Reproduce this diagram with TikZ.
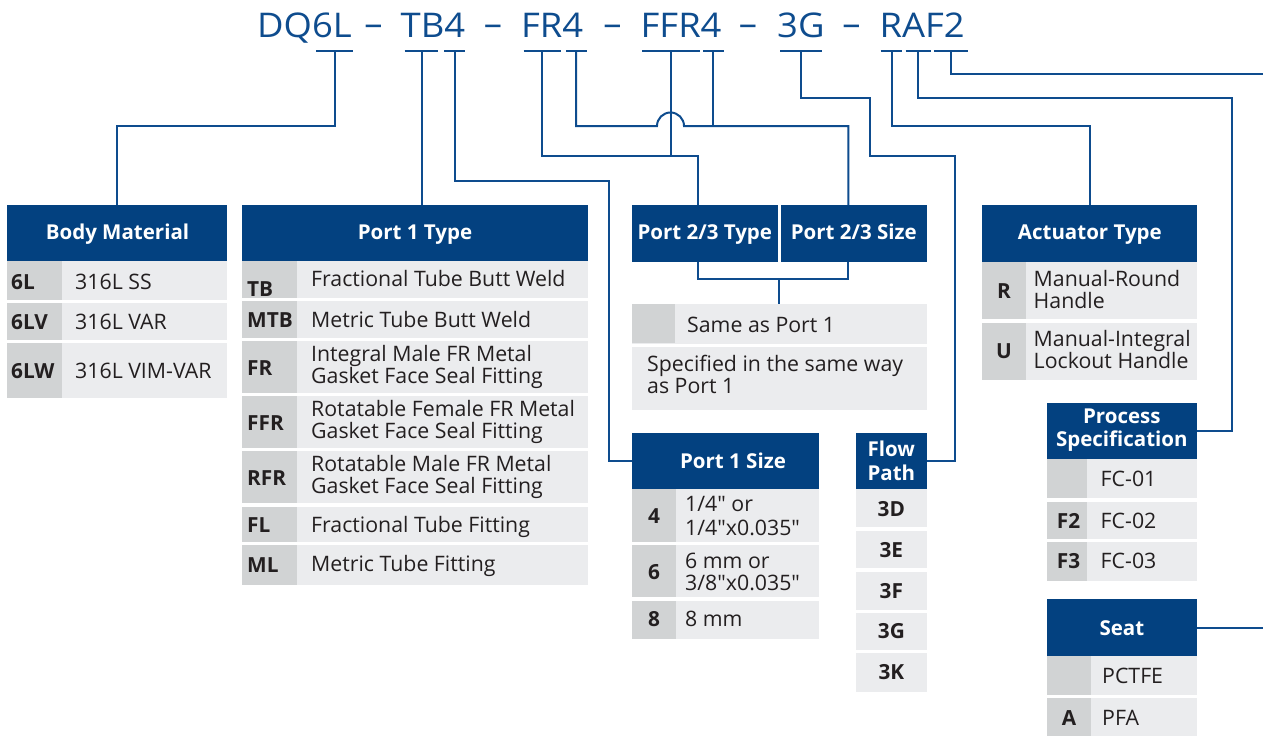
\documentclass[tikz,border=0pt]{standalone}
\usepackage{fontspec}
\setmainfont{Open Sans}[Ligatures=TeXOff]
\newfontfamily\titlefont{Open Sans}[FakeStretch=1.07]
\usetikzlibrary{calc}
\definecolor{hblue}{RGB}{3,65,128}
\definecolor{lblue}{RGB}{14,76,142}
\definecolor{rowgray}{RGB}{235,236,238}
\definecolor{codegray}{RGB}{209,211,212}
\definecolor{tdark}{RGB}{35,31,32}
\tikzset{
 hdrbox/.style={fill=hblue, draw=none, inner sep=0pt, anchor=north west},
 rowbox/.style={fill=rowgray, draw=none, inner sep=0pt, anchor=north west},
 hdrtext/.style={text=white, font=\bfseries\fontsize{20.5}{22}\selectfont, inner sep=0pt, anchor=base},
 valtext/.style={text=tdark, font=\fontsize{21.3}{22}\selectfont, inner sep=0pt, anchor=base west},
 codetext/.style={text=tdark, font=\bfseries\fontsize{20.8}{22}\selectfont, inner sep=0pt, anchor=base},
 codeleft/.style={codetext, anchor=base west},
 conn/.style={draw=lblue, line width=2pt},
 bar/.style={draw=lblue, line width=2.2pt},
 titletext/.style={text=lblue, font=\titlefont\fontsize{34}{36}\selectfont, inner sep=0pt, anchor=base west},
}
\newcommand{\rowfill}[5]{\fill[rowgray] (#1,#2) rectangle (#3,#4); \fill[codegray] (#1,#2) rectangle (#5,#4);}
\begin{document}
\begin{tikzpicture}[x=1pt,y=-1pt]
\useasboundingbox (0,0) rectangle (1263,736);
\fill[white] (0,0) rectangle (1263,736);

% ---------- title ----------
\node[titletext] (tA) at (257,37.5) {DQ6L};
\node[titletext] (tB) at (400.5,37.5) {TB4};
\node[titletext] (tC) at (521,37.5) {FR4};
\node[titletext] (tD) at (640.5,37.5) {FFR4};
\node[titletext] (tE) at (777,37.5) {3G};
\node[titletext] (tF) at (879.5,37.5) {RAF2};
\node[titletext, anchor=base] (d1) at (373.5,35) {–};
\node[titletext, anchor=base] (d2) at (493,35) {–};
\node[titletext, anchor=base] (d3) at (612.5,35) {–};
\node[titletext, anchor=base] (d4) at (748,35) {–};
\node[titletext, anchor=base] (d5) at (851.5,35) {–};

% bars
\draw[bar] (316,51) -- (353,51);
\draw[bar] (404.5,51) -- (438,51);
\draw[bar] (444,51) -- (464.5,51);
\draw[bar] (523.5,51) -- (561,51);
\draw[bar] (566,51) -- (586.5,51);
\draw[bar] (642,51) -- (700,51);
\draw[bar] (703,51) -- (724,51);
\draw[bar] (780,51) -- (822,51);
\draw[bar] (880.5,51) -- (902,51);
\draw[bar] (905.5,51) -- (930.5,51);
\draw[bar] (934,51) -- (968,51);

\coordinate (s1) at (335,51);
\coordinate (s2) at (421.5,51);
\coordinate (s3) at (455,51);
\coordinate (s4) at (542,51);
\coordinate (s5) at (576,51);
\coordinate (s6) at (670.5,51);
\coordinate (s7) at (713,51);
\coordinate (s8) at (801,51);
\coordinate (s9) at (891.5,51);
\coordinate (s10) at (918,51);
\coordinate (s11) at (951,51);
\coordinate (e1) at (1263,74);
\coordinate (e2) at (1263,0);

% ---------- Body Material ----------
\node[hdrbox, minimum width=220pt, minimum height=56pt] (bm) at (7,205) {};
\node[hdrtext] (bmT) at (117.5,239.5) {Body Material};
\rowfill{7}{261}{227}{299.5}{62}
\rowfill{7}{303}{227}{339.5}{62}
\rowfill{7}{343}{227}{398}{62}
\node[codeleft] (c1) at (11,289) {6L};
\node[valtext] (v1) at (75,289) {316L SS};
\node[codeleft] (c2) at (11,329) {6LV};
\node[valtext] (v2) at (75,329) {316L VAR};
\node[codeleft] (c3) at (11,378) {6LW};
\node[valtext] (v3) at (75,378) {316L VIM-VAR};

% ---------- Port 1 Type ----------
\node[hdrbox, minimum width=346pt, minimum height=56pt] (p1t) at (242,205) {};
\node[hdrtext] (p1tT) at (415,239.5) {Port 1 Type};
\rowfill{242}{261}{588}{298}{297}
\rowfill{242}{301}{588}{337.5}{297}
\rowfill{242}{341}{588}{393}{297}
\rowfill{242}{396}{588}{448}{297}
\rowfill{242}{451}{588}{503}{297}
\rowfill{242}{507}{588}{541.5}{297}
\rowfill{242}{545}{588}{585}{297}
\node[codeleft] (c4) at (247,296) {TB};
\node[valtext] (v4) at (311,286) {Fractional Tube Butt Weld};
\node[codeleft] (c5) at (247,327.5) {MTB};
\node[valtext] (v5) at (311,327.5) {Metric Tube Butt Weld};
\node[codeleft] (c6) at (247,375) {FR};
\node[valtext] (v6a) at (311,361) {Integral Male FR Metal};
\node[valtext] (v6b) at (311,383) {Gasket Face Seal Fitting};
\node[codeleft] (c7) at (247,430) {FFR};
\node[valtext] (v7a) at (311,416.5) {Rotatable Female FR Metal};
\node[valtext] (v7b) at (311,438.5) {Gasket Face Seal Fitting};
\node[codeleft] (c8) at (247,485) {RFR};
\node[valtext] (v8a) at (311,471.5) {Rotatable Male FR Metal};
\node[valtext] (v8b) at (311,493.5) {Gasket Face Seal Fitting};
\node[codeleft] (c9) at (247,532.5) {FL};
\node[valtext] (v9) at (311,532) {Fractional Tube Fitting};
\node[codeleft] (c10) at (247,572) {ML};
\node[valtext] (v10) at (311,571) {Metric Tube Fitting};

% ---------- Port 2/3 ----------
\node[hdrbox, minimum width=145.5pt, minimum height=56.5pt] (p23t) at (632,205) {};
\node[hdrtext] (p23tT) at (704.75,239.5) {Port 2/3 Type};
\node[hdrbox, minimum width=145.5pt, minimum height=56.5pt] (p23s) at (781,205) {};
\node[hdrtext] (p23sT) at (853.75,239.5) {Port 2/3 Size};
\node[rowbox, minimum width=294.5pt, minimum height=39.3pt] (same) at (632,304) {};
\fill[codegray] (632,304) rectangle (675,343.3);
\node[rowbox, minimum width=294.5pt, minimum height=63.3pt] (spec) at (632,346.7) {};
\node[valtext] (v11) at (687,332.5) {Same as Port 1};
\node[valtext] (v12a) at (647,371.7) {Specified in the same way};
\node[valtext] (v12b) at (647,393.3) {as Port 1};

% ---------- Port 1 Size ----------
\node[hdrbox, minimum width=187pt, minimum height=56.7pt] (p1s) at (632,432.3) {};
\node[hdrtext] (p1sT) at (733,468.3) {Port 1 Size};
\rowfill{632}{489}{819}{541.7}{676}
\rowfill{632}{545}{819}{597.3}{676}
\rowfill{632}{600.7}{819}{639}{676}
\node[codetext] (c13) at (654,523.3) {4};
\node[valtext] (v13a) at (685,511.7) {1/4"\ or};
\node[valtext] (v13b) at (685,535) {1/4"x0.035"};
\node[codetext] (c14) at (654,579) {6};
\node[valtext] (v14a) at (685,568) {6 mm or};
\node[valtext] (v14b) at (685,590) {3/8"x0.035"};
\node[codetext] (c15) at (654,626.7) {8};
\node[valtext] (v15) at (685,626.7) {8 mm};

% ---------- Flow Path ----------
\node[hdrbox, minimum width=70.7pt, minimum height=56.7pt] (fp) at (856,432.3) {};
\node[hdrtext] (fpT1) at (891.35,456.7) {Flow};
\node[hdrtext] (fpT2) at (891.35,480) {Path};
\fill[rowgray] (856,489) rectangle (926.7,527.3);
\fill[rowgray] (856,531) rectangle (926.7,568.3);
\fill[rowgray] (856,571.7) rectangle (926.7,610);
\fill[rowgray] (856,613.3) rectangle (926.7,650);
\fill[rowgray] (856,653.3) rectangle (926.7,692);
\node[codetext] (f1) at (891.35,516.7) {3D};
\node[codetext] (f2) at (891.35,557.7) {3E};
\node[codetext] (f3) at (891.35,598.3) {3F};
\node[codetext] (f4) at (891.35,638.3) {3G};
\node[codetext] (f5) at (891.35,679.3) {3K};

% ---------- Actuator Type ----------
\node[hdrbox, minimum width=214.7pt, minimum height=56.7pt] (act) at (982,205) {};
\node[hdrtext] (actT) at (1089.85,239.5) {Actuator Type};
\rowfill{982}{261.7}{1196.7}{319}{1026}
\rowfill{982}{322.7}{1196.7}{380}{1026}
\node[codetext] (c16) at (1004,298.3) {R};
\node[valtext] (v16a) at (1033.5,286.7) {Manual-Round};
\node[valtext] (v16b) at (1033.5,308.3) {Handle};
\node[codetext] (c17) at (1004,358.3) {U};
\node[valtext] (v17a) at (1033.5,346.7) {Manual-Integral};
\node[valtext] (v17b) at (1033.5,368.3) {Lockout Handle};

% ---------- Process Specification ----------
\node[hdrbox, minimum width=149.7pt, minimum height=56.7pt] (ps) at (1047,402.3) {};
\node[hdrtext] (psT1) at (1121.85,423) {Process};
\node[hdrtext] (psT2) at (1121.85,446.7) {Specification};
\rowfill{1047}{459}{1196.7}{498.3}{1086.7}
\rowfill{1047}{501.7}{1196.7}{539}{1086.7}
\rowfill{1047}{542.3}{1196.7}{581}{1086.7}
\node[valtext] (v18) at (1100.5,486.7) {FC-01};
\node[codetext] (c19) at (1068.5,528) {F2};
\node[valtext] (v19) at (1100.5,528) {FC-02};
\node[codetext] (c20) at (1068.5,568) {F3};
\node[valtext] (v20) at (1100.5,568) {FC-03};

% ---------- Seat ----------
\node[hdrbox, minimum width=149.7pt, minimum height=56.7pt] (seat) at (1047,599) {};
\node[hdrtext] (seatT) at (1121.85,635) {Seat};
\rowfill{1047}{655.7}{1196.7}{695}{1091}
\rowfill{1047}{698.3}{1196.7}{736}{1091}
\node[valtext] (v21) at (1102,683) {PCTFE};
\node[codetext] (c22) at (1069,725) {A};
\node[valtext] (v22) at (1102,725) {PFA};

% ---------- connectors ----------
\draw[conn] (s1) -- ++(0,75) -| (bm.north);
\draw[conn] (s2) -- (s2 |- p1t.north);
\draw[conn] (s3) -- ++(0,130) -| ($(p1s.west)+(-23,0)$) -- (p1s.west);
\draw[conn] (s4) -- ++(0,105) -| ($(p23t.north)+(-7,0)$);
\draw[conn] (s5) -- ++(0,75) -- ($(s6)+(-13.5,75)$) arc[start angle=180, end angle=0, radius=13.5pt] -| ($(p23s.north)+(-5.5,0)$);
\draw[conn] (s6) -- ++(0,105);
\draw[conn] (s7) -- ++(0,75);
\draw[conn] (s8) |- (869.5,97.5) |- (954.5,156) |- (fp.east);
\draw[conn] (s9) -- ++(0,75) -| (act.north);
\draw[conn] (s10) -- ++(0,46.5) -| ($(ps.east)+(35,0)$) -- (ps.east);
\draw[conn] (s11) |- (e1);
\draw[conn] (seat.east) -- (seat.east -| e2);
\draw[conn] ($(p23t.south)+(-7,0)$) -- ++(0,17) -| ($(p23s.south)+(-5.5,0)$);
\coordinate (mid) at ($(p23t.south)!0.5!(p23s.south)+(0,17)$);
\draw[conn] (mid) -- (mid |- same.north);
\end{tikzpicture}
\end{document}
